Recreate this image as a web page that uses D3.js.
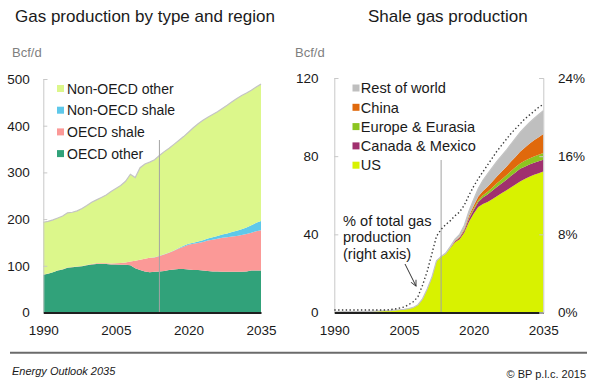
<!DOCTYPE html>
<html>
<head>
<meta charset="utf-8">
<script src="https://cdn.jsdelivr.net/npm/d3@7"></script>
<style>
  body { margin: 0; background: #fff; }
  svg text { font-family: "Liberation Sans", Arial, Helvetica, sans-serif; }
</style>
</head>
<body>
<div id="chart"></div>
<script>
// years 1990..2035
const years = [1990,1991,1992,1993,1994,1995,1996,1997,1998,1999,
  2000,2001,2002,2003,2004,2005,2006,2007,2008,2009,
  2010,2011,2012,2013,2014,2015,2016,2017,2018,2019,
  2020,2021,2022,2023,2024,2025,2026,2027,2028,2029,
  2030,2031,2032,2033,2034,2035];

// left panel, Bcf/d
const oecdOther = [81,83,86,90,92,96,97,98,99,101, 103,104,104,104,103,103,102,102,101,95,
  91,88,86,87,88,89,91,92,93,93, 92,91,91,90,89,88,88,87,87,87, 87,87,88,90,90,90];
const oecdShale = [0.3,0.3,0.4,0.4,0.5,0.5,0.6,0.7,0.8,0.9, 1,1.2,1.4,1.7,2,2.5,4,5,8,16,
  22,27,31,31,33,35,37,40,44,48, 53,56,58,61,65,68,70,73,74,76, 77,79,80,81,84,86];
const nonOecdShale = [0,0,0,0,0,0,0,0,0,0, 0,0,0,0,0,0,0,0,0,0,
  0,0,0,0.2,0.3,0.5,0.7,1,1.3,1.7, 2,2.5,3,3.5,4.2,5,6,7,8,9.5, 11,12.5,14,16,18,20];
const nonOecdOther = [112,112,112,112,114,117,117,119,123,127, 132,136,141,146,154,160,166,174,187,178,
  197,203,205,209,215,220,223,227,230,234, 239,246,252,257,260,263,266,270,275,279, 283,286,288,289,291,293];

// right panel, Bcf/d
const us = [0.3,0.3,0.4,0.4,0.4,0.5,0.5,0.6,0.6,0.7, 0.8,0.9,1,1.2,1.4,1.6,2,2.6,4,7,
  12,18,26.5,28.5,30,33,36,37.5,41,46.5, 50.5,54,55.5,56.5,58,59.5,61,62.4,64,65.5, 67,68.3,69.5,70.5,71.3,72.1];
const canMex = [0,0,0,0,0,0,0,0,0,0, 0,0,0,0,0,0,0,0,0,0,
  0,0,0,0,0.1,0.2,0.4,0.7,1,1.5, 2,2.6,3.3,3.9,4.3,4.7,5,5.4,5.8,6.2, 6.5,6.3,6.2,6.1,6.1,6.1];
const europe = [0,0,0,0,0,0,0,0,0,0, 0,0,0,0,0,0,0,0,0,0,
  0,0,0,0,0,0,0.1,0.2,0.3,0.5, 0.7,0.9,1.2,1.4,1.6,1.9,2.1,2.3,2.5,2.6, 2.8,3,3.1,3.2,3.3,3.4];
const china = [0,0,0,0,0,0,0,0,0,0, 0,0,0,0,0,0,0,0,0,0,
  0,0,0,0,0,0.1,0.2,0.4,0.6,1, 1.4,1.8,2.2,2.6,3,3.5,3.9,4.3,4.8,5.3, 5.9,6.7,7.5,8.3,9,9.7];
const restWorld = [0,0,0,0,0,0,0,0,0,0, 0,0,0,0,0,0,0,0,0,0,
  0,0,0,0.2,0.3,0.5,0.8,1.2,1.8,2.5, 3.2,4.2,5.5,6.5,7.2,7.7,8.1,8.5,9,9.5, 10,10.4,10.8,11.2,11.6,11.9];
// shale share of total gas production, %
const shareOfTotal = [0.25,0.25,0.25,0.25,0.25,0.25,0.25,0.25,0.25,0.25, 0.25,0.25,0.3,0.35,0.45,0.55,0.8,1.1,1.6,2.8,
  4.2,6,7.8,8.5,9,9.4,9.9,10.3,11,12, 12.9,13.7,14.4,15.1,15.8,16.5,17.1,17.7,18.3,18.8, 19.3,19.8,20.2,20.6,21,21.3];

const xTicks = [1990, 2005, 2020, 2035];
const leftTicks = [0, 100, 200, 300, 400, 500];
const rightTicks = [0, 40, 80, 120];
const pctTicks = [0, 8, 16, 24];
const histEndLeft = 2014;
const histEndRight = 2013;

const W = 599, H = 388;
const svg = d3.select("#chart").append("svg").attr("width", W).attr("height", H);

const leftSeries = [
  { key: "oecdOther", label: "OECD other", values: oecdOther, color: "#31a27a" },
  { key: "oecdShale", label: "OECD shale", values: oecdShale, color: "#fb9997" },
  { key: "nonOecdShale", label: "Non-OECD shale", values: nonOecdShale, color: "#5ec8ea" },
  { key: "nonOecdOther", label: "Non-OECD other", values: nonOecdOther, color: "#dcf78b" }
];
const rightSeries = [
  { key: "us", label: "US", values: us, color: "#d8f200" },
  { key: "canMex", label: "Canada & Mexico", values: canMex, color: "#a0306e" },
  { key: "europe", label: "Europe & Eurasia", values: europe, color: "#8cc520" },
  { key: "china", label: "China", values: china, color: "#e0690c" },
  { key: "restWorld", label: "Rest of world", values: restWorld, color: "#bfbfbf" }
];

function rows(series) {
  return years.map((yr, i) => {
    const r = { year: yr };
    series.forEach(s => r[s.key] = s.values[i]);
    return r;
  });
}

function panel(opts) {
  const x = d3.scaleLinear().domain([1990, 2035]).range(opts.xRange);
  const y = d3.scaleLinear().domain([0, opts.yMax]).range([312.5, opts.yTop]);
  const g = svg.append("g");

  // title + unit
  g.append("text").attr("x", opts.titleX).attr("y", 22)
    .attr("font-size", "17px").attr("fill", "#1a1a1a").text(opts.title);
  g.append("text").attr("x", opts.unitX).attr("y", 57)
    .attr("font-size", "13px").attr("fill", "#7f7f7f").text("Bcf/d");

  const data = rows(opts.series);
  const stacked = d3.stack().keys(opts.series.map(s => s.key))(data);
  const area = d3.area()
    .x(d => x(d.data.year))
    .y0(d => y(d[0]))
    .y1(d => y(d[1]));

  g.selectAll(".layer")
    .data(stacked)
    .join("path")
    .attr("d", area)
    .attr("fill", (d, i) => opts.series[i].color);

  // light outline on the top of the stack
  const top = stacked[stacked.length - 1];
  g.append("path")
    .datum(top)
    .attr("fill", "none")
    .attr("stroke", "#c4c4c4")
    .attr("stroke-width", 1.2)
    .attr("d", d3.line().x(d => x(d.data.year)).y(d => y(d[1])));

  // history / forecast divider
  g.append("line")
    .attr("x1", x(opts.histEnd)).attr("x2", x(opts.histEnd))
    .attr("y1", opts.dividerTop).attr("y2", 312)
    .attr("stroke", "#a3a3a3").attr("stroke-width", 1);

  // left axis
  const yAxis = g.append("g")
    .attr("transform", `translate(${opts.xRange[0]},0)`)
    .call(d3.axisLeft(y).tickValues(opts.yTicks).tickSizeInner(-4).tickSizeOuter(-4).tickPadding(opts.yPad));
  yAxis.select(".domain").attr("stroke", "#c8c8c8");
  yAxis.selectAll(".tick line").attr("stroke", "#c8c8c8");
  yAxis.selectAll("text").attr("font-size", "13.5px").attr("fill", "#1a1a1a")
    .attr("font-family", "Liberation Sans, Arial, sans-serif");

  // bottom axis
  const xAxis = g.append("g")
    .attr("transform", "translate(0,312.5)")
    .call(d3.axisBottom(x).tickValues(xTicks).tickFormat(d3.format("d")).tickSize(0).tickPadding(13));
  xAxis.select(".domain").attr("stroke", "#1f1f1f").attr("stroke-width", 2);
  xAxis.selectAll("text").attr("font-size", "13.5px").attr("fill", "#1a1a1a")
    .attr("font-family", "Liberation Sans, Arial, sans-serif");

  // legend (top entry first)
  const legendItems = opts.series.slice().reverse();
  const legend = g.selectAll(".legend")
    .data(legendItems)
    .join("g")
    .attr("transform", (d, i) => `translate(${opts.legendX},${opts.legendY + i * opts.legendStep})`);
  legend.append("rect")
    .attr("x", 0).attr("y", -3.5).attr("width", 7).attr("height", 7)
    .attr("fill", d => d.color);
  legend.append("text")
    .attr("x", opts.legendTextDx).attr("y", 0).attr("dy", "0.36em")
    .attr("font-size", opts.legendFont).attr("fill", "#1a1a1a")
    .text(d => d.label);

  return { x, y, g };
}

panel({
  title: "Gas production by type and region", titleX: 15, unitX: 12,
  xRange: [43.3, 261], yMax: 500, yTop: 79, yTicks: leftTicks, yPad: 13.5,
  series: leftSeries, histEnd: histEndLeft, dividerTop: 140,
  legendX: 57, legendY: 88.5, legendStep: 21.7, legendTextDx: 10, legendFont: "14px"
});

const right = panel({
  title: "Shale gas production", titleX: 368, unitX: 295,
  xRange: [334.3, 543.3], yMax: 120, yTop: 78, yTicks: rightTicks, yPad: 15.8,
  series: rightSeries, histEnd: histEndRight, dividerTop: 160,
  legendX: 352.5, legendY: 88, legendStep: 19.3, legendTextDx: 8.3, legendFont: "14.6px"
});

// right axis: share of total, %
const yPct = d3.scaleLinear().domain([0, 24]).range([312.5, 78]);
const pctAxis = right.g.append("g")
  .attr("transform", "translate(543.3,0)")
  .call(d3.axisRight(yPct).tickValues(pctTicks).tickSizeInner(-4).tickSizeOuter(-4)
    .tickPadding(14.7).tickFormat(d => d + "%"));
pctAxis.select(".domain").attr("stroke", "#c8c8c8");
pctAxis.selectAll(".tick line").attr("stroke", "#c8c8c8");
pctAxis.selectAll("text").attr("font-size", "13.5px").attr("fill", "#1a1a1a")
  .attr("font-family", "Liberation Sans, Arial, sans-serif");

right.g.append("path")
  .datum(shareOfTotal)
  .attr("fill", "none")
  .attr("stroke", "#3a3a3a")
  .attr("stroke-width", 1.4)
  .attr("stroke-dasharray", "1.4,2.4")
  .attr("d", d3.line().x((d, i) => right.x(years[i])).y(d => yPct(d)));

// annotation
const note = right.g.append("text").attr("font-size", "14.6px").attr("fill", "#1a1a1a");
["% of total gas", "production", "(right axis)"].forEach((t, i) => {
  note.append("tspan").attr("x", 343).attr("y", 225.5 + i * 16.7).text(t);
});
svg.append("defs").append("marker")
  .attr("id", "arr").attr("viewBox", "0 0 10 10").attr("refX", 9).attr("refY", 5)
  .attr("markerWidth", 7).attr("markerHeight", 7).attr("orient", "auto")
  .append("path").attr("d", "M1,1 L9,5 L1,9").attr("fill", "none")
  .attr("stroke", "#333").attr("stroke-width", 1.3);
right.g.append("line")
  .attr("x1", 405).attr("y1", 264).attr("x2", 416).attr("y2", 286)
  .attr("stroke", "#333").attr("stroke-width", 1)
  .attr("marker-end", "url(#arr)");

// footer
svg.append("line").attr("x1", 10).attr("x2", 587).attr("y1", 352.7).attr("y2", 352.7)
  .attr("stroke", "#6b6b6b").attr("stroke-width", 2);
svg.append("text").attr("x", 12).attr("y", 375).attr("font-size", "11px")
  .attr("font-style", "italic").attr("fill", "#1a1a1a").text("Energy Outlook 2035");
svg.append("text").attr("x", 586).attr("y", 378).attr("font-size", "11px")
  .attr("text-anchor", "end").attr("fill", "#1a1a1a").text("© BP p.l.c. 2015");
</script>
</body>
</html>
